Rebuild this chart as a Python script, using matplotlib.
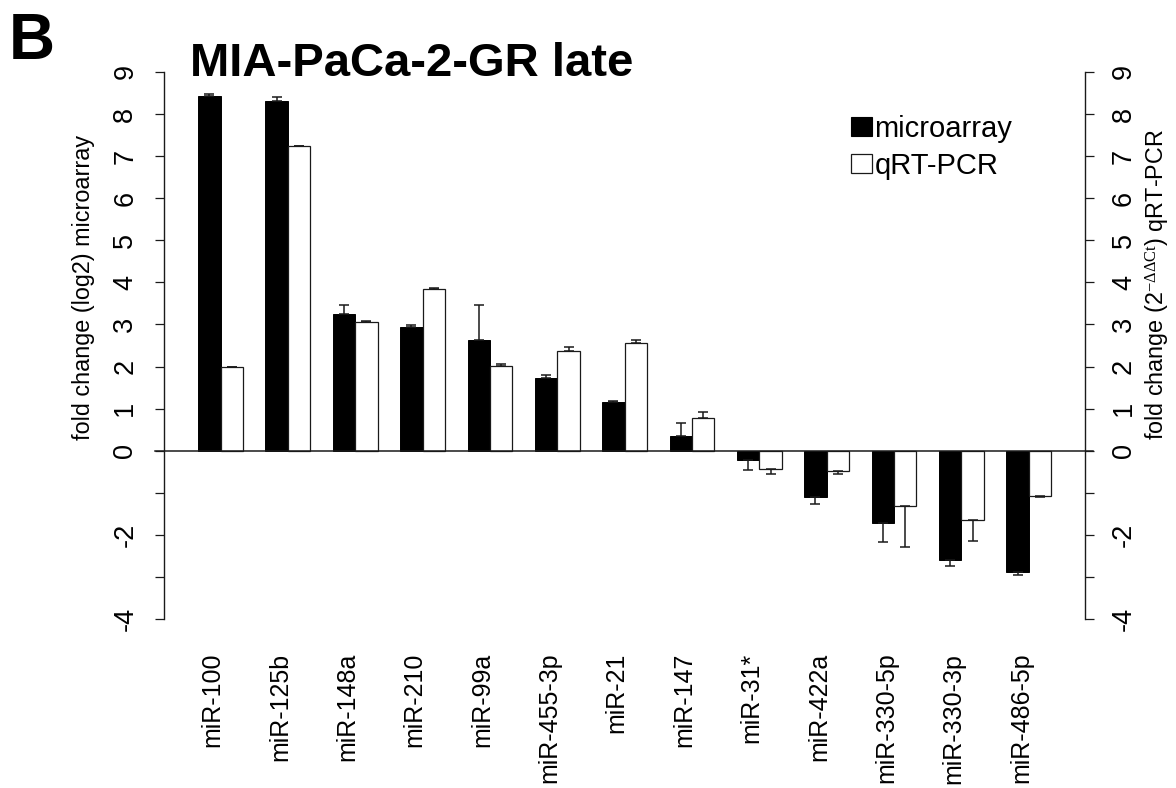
import matplotlib
matplotlib.use('Agg')
import matplotlib.pyplot as plt
from matplotlib.patches import Patch
import numpy as np

plt.rcParams['font.family'] = ['Liberation Sans', 'DejaVu Sans']
plt.rcParams['mathtext.fontset'] = 'custom'
plt.rcParams['mathtext.rm'] = 'Liberation Serif'
plt.rcParams['mathtext.it'] = 'Liberation Serif:italic'

categories = ['miR-100', 'miR-125b', 'miR-148a', 'miR-210', 'miR-99a', 'miR-455-3p',
              'miR-21', 'miR-147', 'miR-31*', 'miR-422a', 'miR-330-5p', 'miR-330-3p',
              'miR-486-5p']
microarray = [8.42, 8.31, 3.25, 2.95, 2.63, 1.73, 1.15, 0.34, -0.23, -1.09, -1.72, -2.59, -2.89]
microarray_err = [0.05, 0.10, 0.22, 0.04, 0.83, 0.07, 0.02, 0.33, 0.23, 0.18, 0.45, 0.16, 0.06]
qrtpcr = [2.00, 7.24, 3.06, 3.84, 2.02, 2.38, 2.55, 0.77, -0.44, -0.49, -1.31, -1.65, -1.07]
qrtpcr_err = [0.0, 0.0, 0.02, 0.02, 0.05, 0.08, 0.08, 0.16, 0.11, 0.06, 0.97, 0.49, 0.04]
ytick_values = list(range(-4, 10))
ytick_labels = ['-4', '', '-2', '', '0', '1', '2', '3', '4', '5', '6', '7', '8', '9']
title = 'MIA-PaCa-2-GR late'
panel = 'B'
left_label = 'fold change (log2) microarray'
right_label = r'fold change (2$^{-\Delta\Delta\mathrm{Ct}}$) qRT-PCR'
legend_labels = ['microarray', 'qRT-PCR']

W, H = 1176, 788
fig = plt.figure(figsize=(W / 100, H / 100), dpi=100)
ax = fig.add_axes([164 / W, 1 - 640.9 / H, (1085.3 - 164) / W, (640.9 - 50.1) / H])

n = len(categories)
x_black = np.arange(n) * 3 + 1
x_white = x_black + 1
ink = '#1a1a1a'

ax.bar(x_black, microarray, width=1, align='edge', color='black', edgecolor='black',
       linewidth=0.7, zorder=2)
ax.bar(x_white, qrtpcr, width=1, align='edge', color='white', edgecolor=ink,
       linewidth=0.9, zorder=2)

def one_sided(vals, errs):
    vals = np.asarray(vals)
    errs = np.asarray(errs)
    lower = np.where(vals < 0, errs, 0)
    upper = np.where(vals >= 0, errs, 0)
    return [lower, upper]

ax.errorbar(x_black + 0.5, microarray, yerr=one_sided(microarray, microarray_err), fmt='none',
            ecolor=ink, elinewidth=1.1, capsize=3.6, capthick=1.1, zorder=3)
ax.errorbar(x_white + 0.5, qrtpcr, yerr=one_sided(qrtpcr, qrtpcr_err), fmt='none',
            ecolor=ink, elinewidth=1.1, capsize=3.6, capthick=1.1, zorder=3)

ax.plot([-0.93, 40.85], [0, 0], color=ink, lw=1.1, clip_on=False, zorder=4)

ax.set_xlim(-0.52, 40.52)
ax.set_ylim(-4.52, 9.52)
for s in ['top', 'bottom']:
    ax.spines[s].set_visible(False)
for s in ['left', 'right']:
    ax.spines[s].set_bounds(-4, 9)
    ax.spines[s].set_color(ink)
    ax.spines[s].set_linewidth(1.0)
ax.set_xticks([])
ax.set_yticks(ytick_values)
ax.set_yticklabels(ytick_labels)
ax.tick_params(axis='y', direction='out', length=6.5, width=0.9, color=ink,
               left=True, right=True, labelleft=True, labelright=True,
               labelsize=19.5, labelrotation=90, pad=12)
for lab in ax.get_yticklabels():
    lab.set_va('center')

for i, c in enumerate(categories):
    ax.text(x_black[i] + 0.65, -4.8, c, rotation=90, ha='center', va='top', fontsize=18)

def fx(px):
    return px / W

def fy(py):
    return 1 - py / H

fig.text(fx(84), fy(287), left_label, rotation=90, ha='center', va='center', fontsize=16.8)
fig.text(fx(1158), fy(284), right_label, rotation=90, ha='center', va='center', fontsize=16.8)
fig.text(fx(190), fy(76), title, fontsize=34, fontweight='bold', ha='left', va='baseline')
fig.text(fx(9), fy(59), panel, fontsize=46, fontweight='bold', ha='left', va='baseline')

handles = [Patch(facecolor='black', edgecolor='black', linewidth=0.8),
           Patch(facecolor='white', edgecolor=ink, linewidth=0.9)]
ax.legend(handles, legend_labels, loc='upper left', bbox_to_anchor=(fx(851), fy(115)),
          bbox_transform=fig.transFigure, frameon=False, fontsize=21, handlelength=0.72,
          handleheight=0.6, handletextpad=0.08, labelspacing=0.3, borderpad=0,
          borderaxespad=0)

fig.savefig('out.png', dpi=100)
